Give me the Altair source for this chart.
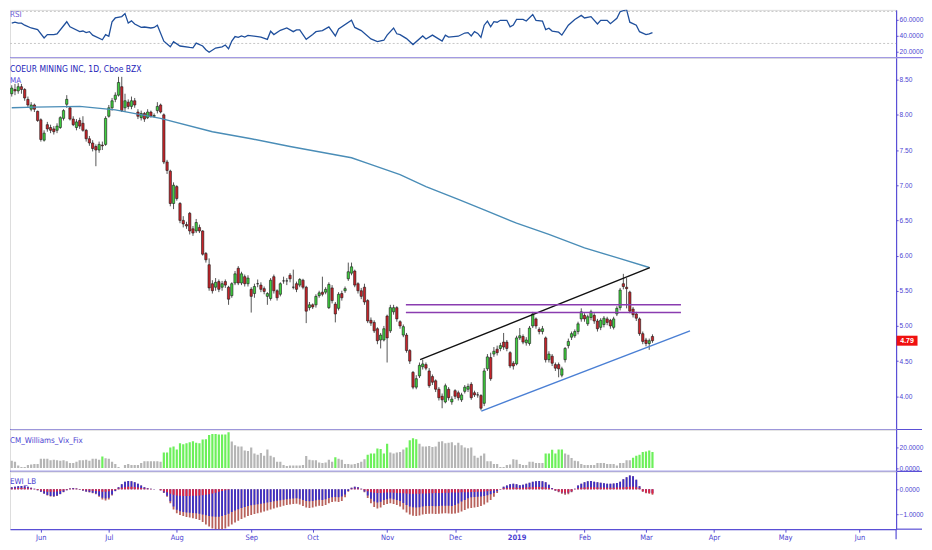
import altair as alt
import pandas as pd

FONT = "DejaVu Sans Condensed, Liberation Sans, sans-serif"
TICK_FONT = "Liberation Sans, sans-serif"
AXIS_BLUE = "#5a4fd6"
TEXT_BLUE = "#4b3fd2"
PX_PER_BAR = 3.2466
X_START = 2.46
PLOT_W = 889
X_DOMAIN = [X_START, X_START + PLOT_W / PX_PER_BAR]
RIGHT_EDGE = 915
FIRST_VISIBLE = 3
NO_PAD = {"left": 0, "top": 0, "right": 0, "bottom": 0}

# daily candles, index 0 = mid May 2018 (trading days only)
opens = [
    7.96, 8.00, 8.12, 8.30, 8.36, 8.34, 8.40, 8.36, 8.22, 8.08,
    8.14, 8.05, 7.93, 7.64, 7.86, 7.82, 7.80, 7.78, 7.82, 7.95,
    8.15, 8.10, 7.94, 7.82, 7.92, 7.88, 7.78, 7.66, 7.60, 7.55,
    7.50, 7.57, 7.58, 7.98, 8.10, 8.22, 8.28, 8.40, 8.10, 8.18,
    8.12, 8.20, 8.04, 7.96, 8.02, 7.96, 8.04, 7.98, 8.06, 8.14,
    8.00, 7.33, 7.20, 6.74, 6.98, 6.74, 6.50, 6.44, 6.60, 6.38,
    6.35, 6.40, 6.35, 6.03, 5.87, 5.60, 5.55, 5.63, 5.55, 5.63,
    5.55, 5.43, 5.61, 5.82, 5.61, 5.70, 5.60, 5.52, 5.46, 5.60,
    5.58, 5.53, 5.42, 5.39, 5.70, 5.50, 5.45, 5.64, 5.64, 5.72,
    5.55, 5.60, 5.58, 5.65, 5.55, 5.26, 5.30, 5.30, 5.43, 5.48,
    5.48, 5.26, 5.54, 5.31, 5.25, 5.46, 5.50, 5.67, 5.75, 5.78,
    5.60, 5.50, 5.55, 5.36, 5.08, 5.05, 4.96, 4.80, 4.80, 5.14,
    4.93, 5.20, 5.26, 5.06, 4.87, 4.87, 4.65, 4.34, 4.13, 4.29,
    4.42, 4.45, 4.36, 4.28, 4.22, 4.10, 4.00, 3.92, 4.10, 3.92,
    4.08, 4.05, 3.95, 4.07, 4.10, 4.17, 4.05, 4.02, 4.01, 3.90,
    4.39, 4.55, 4.60, 4.67, 4.68, 4.77, 4.77, 4.62, 4.47, 4.46,
    4.83, 4.85, 4.76, 4.75, 5.00, 5.10, 4.95, 4.92, 4.83, 4.52,
    4.57, 4.45, 4.45, 4.30, 4.52, 4.72, 4.84, 4.86, 4.92, 5.10,
    5.15, 5.03, 5.12, 5.15, 5.07, 4.98, 5.02, 5.10, 5.08, 4.98,
    5.17, 5.26, 5.60, 5.55, 5.48, 5.24, 5.17, 5.10, 4.89, 4.80,
    4.75, 4.85,
]
closes = [
    8.04, 8.14, 8.30, 8.38, 8.34, 8.40, 8.36, 8.24, 8.14, 8.14,
    8.08, 7.92, 7.65, 7.74, 7.80, 7.78, 7.76, 7.84, 7.96, 8.06,
    8.22, 7.94, 7.86, 7.90, 7.84, 7.78, 7.66, 7.60, 7.52, 7.50,
    7.58, 7.56, 7.95, 8.10, 8.20, 8.28, 8.46, 8.06, 8.20, 8.12,
    8.20, 8.14, 7.98, 8.02, 7.94, 8.04, 7.98, 7.99, 8.12, 8.04,
    7.33, 7.21, 6.74, 7.00, 6.81, 6.50, 6.45, 6.42, 6.35, 6.32,
    6.47, 6.35, 6.02, 5.94, 5.54, 5.50, 5.62, 5.52, 5.60, 5.58,
    5.38, 5.60, 5.74, 5.61, 5.74, 5.60, 5.68, 5.42, 5.56, 5.60,
    5.52, 5.49, 5.46, 5.65, 5.50, 5.40, 5.60, 5.64, 5.64, 5.67,
    5.55, 5.52, 5.66, 5.55, 5.21, 5.30, 5.27, 5.42, 5.47, 5.45,
    5.52, 5.59, 5.36, 5.17, 5.45, 5.40, 5.53, 5.77, 5.84, 5.58,
    5.50, 5.42, 5.34, 5.07, 5.04, 4.93, 4.79, 4.87, 4.96, 4.83,
    5.26, 5.26, 5.10, 5.00, 4.99, 4.65, 4.50, 4.13, 4.25, 4.44,
    4.46, 4.40, 4.15, 4.20, 4.10, 3.98, 3.95, 4.15, 3.98, 3.96,
    4.00, 3.98, 4.02, 4.13, 4.14, 3.98, 4.02, 4.02, 3.83, 4.36,
    4.56, 4.25, 4.64, 4.62, 4.72, 4.70, 4.68, 4.43, 4.43, 4.83,
    4.86, 4.77, 4.80, 4.97, 5.17, 5.00, 4.92, 4.96, 4.52, 4.60,
    4.47, 4.40, 4.39, 4.39, 4.68, 4.78, 4.89, 4.92, 5.03, 5.20,
    5.10, 5.13, 5.20, 5.07, 4.96, 5.08, 5.11, 5.05, 5.00, 5.10,
    5.25, 5.51, 5.56, 5.53, 5.21, 5.16, 5.11, 4.89, 4.78, 4.75,
    4.79, 4.79,
]
highs = [
    8.07, 8.18, 8.33, 8.42, 8.44, 8.45, 8.44, 8.38, 8.26, 8.18,
    8.16, 8.06, 7.95, 7.78, 7.90, 7.86, 7.84, 7.88, 7.98, 8.08,
    8.28, 8.12, 7.98, 7.94, 7.96, 7.98, 7.80, 7.70, 7.64, 7.58,
    7.62, 7.62, 7.98, 8.14, 8.24, 8.32, 8.54, 8.54, 8.30, 8.22,
    8.26, 8.24, 8.08, 8.06, 8.04, 8.08, 8.06, 8.02, 8.18, 8.16,
    8.02, 7.36, 7.22, 7.04, 7.00, 6.76, 6.56, 6.48, 6.62, 6.42,
    6.52, 6.44, 6.36, 6.05, 5.96, 5.65, 5.68, 5.66, 5.64, 5.66,
    5.57, 5.62, 5.78, 5.85, 5.77, 5.73, 5.72, 5.55, 5.60, 5.66,
    5.62, 5.56, 5.48, 5.68, 5.73, 5.52, 5.62, 5.70, 5.68, 5.75,
    5.80, 5.63, 5.68, 5.67, 5.57, 5.34, 5.32, 5.45, 5.50, 5.70,
    5.55, 5.62, 5.58, 5.34, 5.48, 5.50, 5.56, 5.90, 5.90, 5.80,
    5.62, 5.54, 5.60, 5.38, 5.12, 5.08, 4.98, 4.90, 5.00, 5.16,
    5.30, 5.30, 5.28, 5.08, 5.02, 4.90, 4.67, 4.36, 4.30, 4.48,
    4.52, 4.48, 4.40, 4.31, 4.24, 4.13, 4.04, 4.18, 4.13, 4.00,
    4.10, 4.08, 4.05, 4.16, 4.18, 4.20, 4.08, 4.06, 4.03, 4.40,
    4.60, 4.62, 4.70, 4.72, 4.76, 4.90, 4.80, 4.64, 4.50, 4.86,
    4.97, 4.88, 4.84, 5.00, 5.20, 5.12, 4.98, 5.00, 4.85, 4.64,
    4.60, 4.48, 4.48, 4.42, 4.70, 4.82, 4.92, 4.95, 5.06, 5.25,
    5.18, 5.16, 5.23, 5.18, 5.10, 5.11, 5.14, 5.13, 5.10, 5.13,
    5.28, 5.54, 5.74, 5.68, 5.50, 5.27, 5.20, 5.12, 4.92, 4.83,
    4.82, 4.88,
]
lows = [
    7.93, 7.98, 8.10, 8.26, 8.28, 8.30, 8.30, 8.20, 8.10, 8.05,
    8.04, 7.90, 7.62, 7.62, 7.76, 7.74, 7.72, 7.74, 7.80, 7.92,
    8.10, 7.92, 7.84, 7.78, 7.80, 7.76, 7.62, 7.56, 7.48, 7.27,
    7.46, 7.50, 7.56, 7.96, 8.06, 8.18, 8.26, 8.04, 8.04, 8.08,
    8.08, 8.10, 7.94, 7.92, 7.90, 7.94, 7.96, 7.96, 8.02, 8.02,
    7.30, 7.16, 6.70, 6.66, 6.78, 6.46, 6.40, 6.38, 6.30, 6.28,
    6.32, 6.32, 6.00, 5.90, 5.50, 5.46, 5.50, 5.48, 5.50, 5.54,
    5.30, 5.40, 5.58, 5.58, 5.58, 5.56, 5.56, 5.19, 5.40, 5.55,
    5.48, 5.45, 5.30, 5.36, 5.46, 5.36, 5.42, 5.60, 5.58, 5.62,
    5.52, 5.48, 5.55, 5.52, 5.04, 5.22, 5.24, 5.26, 5.40, 5.42,
    5.45, 5.24, 5.32, 5.05, 5.22, 5.36, 5.47, 5.64, 5.72, 5.55,
    5.46, 5.38, 5.30, 5.04, 5.00, 4.90, 4.74, 4.68, 4.78, 4.48,
    4.90, 5.16, 5.06, 4.96, 4.84, 4.62, 4.46, 4.10, 4.10, 4.26,
    4.38, 4.37, 4.12, 4.16, 4.06, 3.94, 3.83, 3.90, 3.94, 3.88,
    3.96, 3.94, 3.92, 4.04, 4.06, 3.95, 3.99, 3.98, 3.80, 3.86,
    4.36, 4.22, 4.56, 4.58, 4.64, 4.66, 4.64, 4.40, 4.38, 4.44,
    4.80, 4.74, 4.72, 4.72, 4.97, 4.96, 4.88, 4.88, 4.48, 4.48,
    4.43, 4.36, 4.27, 4.27, 4.48, 4.68, 4.80, 4.83, 4.88, 5.06,
    5.06, 5.00, 5.08, 5.03, 4.92, 4.94, 4.98, 5.01, 4.96, 4.95,
    5.14, 5.22, 5.52, 5.25, 5.18, 5.12, 5.07, 4.86, 4.74, 4.71,
    4.66, 4.76,
]

# moving average, read at a few bars
ma_i = [3, 10, 24, 35, 49, 65, 77, 89, 108, 113, 123, 131, 141, 149, 159, 169, 180, 190, 200]
ma_p = [8.10, 8.11, 8.12, 8.07, 7.95, 7.76, 7.66, 7.55, 7.39, 7.31, 7.15, 6.98, 6.80, 6.65, 6.46,
        6.30, 6.11, 5.97, 5.83]

# drawn lines: channel top, support, two horizontal levels
line_i0 = [129.2, 148.1, 124.8, 124.8]
line_p0 = [4.52, 3.79, 5.30, 5.19]
line_i1 = [200.2, 212.6, 209.8, 209.8]
line_p1 = [5.83, 4.93, 5.30, 5.19]
line_colors = ["#111111", "#4a7fd4", "#8a3cb0", "#8a3cb0"]

last_price = 4.79

rsi_i = [
    3, 4, 5, 6, 7, 9, 11, 13, 14,
    16, 17, 20, 21, 24, 25, 26, 27, 28, 31,
    32, 33, 34, 35, 37, 38, 39, 40, 41, 43,
    44, 46, 47, 48, 50, 52, 53, 55, 58, 59,
    60, 62, 63, 64, 66, 68, 69, 70, 71, 72,
    73, 74, 75, 76, 79, 80, 82, 83, 84, 86,
    88, 90, 91, 92, 94, 96, 97, 99, 101, 103,
    104, 108, 109, 111, 114, 116, 118, 119, 121, 122,
    123, 125, 127, 130, 131, 133, 136, 137, 138, 141,
    143, 144, 145, 146, 147, 148, 149, 150, 151, 152,
    153, 154, 156, 157, 158, 159, 161, 162, 164, 165,
    167, 168, 169, 170, 172, 173, 175, 177, 179, 180,
    182, 184, 185, 187, 188, 190, 191, 193, 194, 196,
    197, 199, 200, 201,
]
rsi_v = [
    55.3, 56.5, 55.4, 55.4, 52.8, 49.3, 47.2, 36.8, 41.1,
    41.1, 42.0, 57.1, 50.7, 44.7, 45.5, 43.6, 44.7, 40.4, 34.6,
    41.1, 39.0, 57.1, 61.8, 63.5, 67.2, 55.4, 58.2, 54.3, 50.0,
    50.5, 49.3, 50.0, 52.8, 32.9, 25.8, 32.2, 26.8, 25.0, 24.5,
    30.4, 26.8, 22.2, 19.0, 24.3, 25.8, 28.0, 23.3, 32.9, 38.6,
    37.5, 39.3, 38.0, 40.0, 38.5, 38.0, 35.1, 45.3, 41.1, 46.4,
    49.3, 44.7, 47.0, 47.0, 35.1, 41.1, 44.7, 46.0, 50.7, 39.3,
    48.2, 58.9, 50.0, 46.0, 35.7, 32.2, 34.0, 40.4, 49.3, 42.1,
    41.0, 36.0, 28.6, 39.3, 35.5, 40.4, 32.9, 40.4, 38.0, 39.0,
    43.0, 43.5, 39.3, 44.7, 42.5, 37.5, 52.8, 57.9, 50.7, 57.1,
    56.5, 58.9, 58.9, 50.7, 53.0, 60.0, 60.0, 58.0, 66.1, 58.9,
    57.9, 47.2, 49.0, 45.5, 44.0, 40.4, 52.8, 60.0, 65.0, 61.8,
    63.5, 54.3, 58.9, 58.9, 54.6, 61.4, 69.6, 72.1, 56.5, 52.8,
    44.7, 41.1, 42.0, 43.6,
]
rsi_levels = [70, 30]

vix = [
    10, 10, 8, 7, 6, 2.5, 1, 1, 3, 3.5,
    4, 4, 9, 9, 9, 7.5, 8, 7.5, 7, 7.5,
    6.5, 5, 5, 6, 7.5, 7.5, 8, 7, 9, 9,
    8, 11.3, 9.5, 9, 6, 4, 1, 0, 3, 4,
    3, 3, 3, 5, 6.5, 6.5, 6.5, 6.5, 6.5, 6,
    15, 15, 20, 21, 18, 24, 23, 24, 25, 26,
    24.5, 24, 27.7, 28, 32, 33, 33, 32.5, 32.5, 32.5,
    34.8, 25.8, 22, 21, 21, 17, 16.5, 20, 14, 13,
    14.5, 12, 18, 12, 10.5, 6, 6, 3, 2, 2.5,
    2.5, 2.5, 2.5, 3, 11.6, 8, 7.5, 7.5, 5.5, 5,
    5.5, 8, 6, 10.6, 9, 8, 4, 4, 3.5, 4,
    5, 6, 8.5, 13, 14, 14, 19, 18.5, 14, 23.5,
    15, 14, 15, 15.5, 18, 20, 27, 29, 28, 23.5,
    21, 21, 21.5, 20.5, 21, 25.5, 26, 24, 24.5, 25,
    22, 24.5, 22, 20, 19.3, 20, 12, 10, 12, 14,
    6.5, 6.5, 4, 4, 1, 1, 3, 3.5, 8.5, 8,
    4, 3, 3, 6, 6, 5, 5, 5, 14, 14,
    17.7, 14, 18, 18, 14, 13, 9.7, 7, 6.5, 4,
    3, 3, 3, 3, 5, 5, 5, 4, 4, 4,
    2.5, 5, 5, 7.5, 7.5, 10, 12, 13, 15.5, 16,
    17, 15.5,
]
vix_green_spans = [(31, 31), (50, 70), (103, 103), (113, 119), (125, 128), (168, 173), (195, 201)]

# EWI_LB: full column (brown), blue part, red part near zero
ewi_full = [
    .04, .05, .06, .08, .10, .12, .13, .12, .10, .06,
    .02, -.04, -.10, -.18, -.25, -.29, -.30, -.27, -.20, -.12,
    -.04, .03, .05, .03, -.02, -.06, -.10, -.13, -.16, -.20,
    -.30, -.40, -.44, -.40, -.25, -.08, .08, .20, .30, .33,
    .32, .28, .22, .15, .08, .04, .02, .01, .00, -.05,
    -.15, -.30, -.55, -.80, -.95, -1.02, -1.06, -1.10, -1.12, -1.15,
    -1.18, -1.22, -1.30, -1.40, -1.48, -1.55, -1.60, -1.62, -1.60, -1.55,
    -1.48, -1.40, -1.32, -1.25, -1.18, -1.12, -1.06, -1.02, -.98, -.95,
    -.92, -.88, -.84, -.80, -.76, -.72, -.69, -.65, -.62, -.60,
    -.58, -.57, -.60, -.66, -.72, -.74, -.72, -.68, -.65, -.66,
    -.62, -.55, -.50, -.48, -.50, -.46, -.32, -.10, .06, .10,
    .08, .02, -.12, -.35, -.55, -.70, -.76, -.72, -.62, -.58,
    -.55, -.58, -.62, -.68, -.80, -.92, -1.00, -1.05, -1.06, -1.04,
    -1.00, -.98, -.97, -.97, -.98, -.97, -.96, -.95, -.96, -.97,
    -.96, -.93, -.88, -.82, -.76, -.74, -.72, -.70, -.66, -.60,
    -.52, -.42, -.30, -.15, -.02, .10, .15, .20, .22, .20,
    .16, .18, .22, .26, .30, .32, .33, .32, .28, .18,
    .05, -.06, -.12, -.18, -.22, -.20, -.12, .02, .15, .22,
    .28, .32, .33, .30, .28, .26, .24, .22, .22, .23,
    .25, .30, .40, .48, .55, .52, .38, .12, -.10, -.16,
    -.18, -.22,
]
ewi_blue = [
    .04, .05, .06, .08, .10, .12, .13, .12, .10, .06,
    .02, -.04, -.10, -.17, -.23, -.27, -.28, -.25, -.19, -.11,
    -.04, .03, .05, .03, -.02, -.05, -.09, -.11, -.14, -.17,
    -.26, -.34, -.37, -.34, -.21, -.07, .08, .20, .30, .33,
    .32, .28, .22, .15, .08, .04, .02, .01, .00, -.04,
    -.13, -.26, -.47, -.68, -.81, -.87, -.90, -.92, -.93, -.94,
    -.95, -.97, -1.00, -1.03, -1.06, -1.08, -1.09, -1.09, -1.06, -1.02,
    -.97, -.90, -.84, -.79, -.74, -.70, -.66, -.63, -.61, -.59,
    -.57, -.55, -.52, -.50, -.47, -.45, -.43, -.41, -.39, -.38,
    -.37, -.36, -.38, -.42, -.46, -.47, -.46, -.43, -.41, -.42,
    -.39, -.35, -.32, -.31, -.32, -.29, -.21, -.07, .06, .10,
    .08, .02, -.09, -.25, -.38, -.48, -.52, -.49, -.42, -.39,
    -.37, -.39, -.42, -.46, -.54, -.62, -.68, -.71, -.72, -.71,
    -.68, -.66, -.66, -.66, -.67, -.66, -.65, -.65, -.65, -.66,
    -.62, -.56, -.48, -.42, -.36, -.32, -.31, -.30, -.29, -.27,
    -.24, -.20, -.15, -.08, -.01, .10, .15, .20, .22, .20,
    .16, .18, .22, .26, .30, .32, .33, .32, .28, .18,
    .05, -.05, -.09, -.13, -.16, -.14, -.09, .02, .15, .22,
    .28, .32, .33, .30, .28, .26, .24, .22, .22, .23,
    .25, .30, .40, .48, .55, .52, .38, .12, -.08, -.12,
    -.13, -.15,
]
ewi_red = [
    .02, .02, .03, .03, .04, .05, .05, .05, .04, .03,
    .01, -.03, -.05, -.08, -.10, -.10, -.10, -.09, -.07, -.05,
    -.02, .02, .02, .02, -.01, -.03, -.04, -.05, -.06, -.07,
    -.08, -.10, -.10, -.08, -.05, -.03, .03, .06, .08, .10,
    .10, .09, .07, .05, .03, .02, .01, 0, 0, -.03,
    -.08, -.12, -.18, -.22, -.25, -.26, -.27, -.27, -.27, -.26,
    -.26, -.25, -.24, -.22, -.20, -.17, -.14, -.10, -.07, -.04,
    -.02, 0, 0, 0, 0, 0, 0, 0, 0, 0,
    0, 0, 0, 0, 0, 0, 0, 0, 0, 0,
    0, 0, 0, 0, 0, 0, 0, 0, 0, 0,
    0, 0, 0, 0, 0, 0, 0, 0, .02, .03,
    .03, .01, -.04, -.08, -.12, -.14, -.15, -.15, -.14, -.13,
    -.13, -.14, -.15, -.15, -.16, -.17, -.18, -.18, -.18, -.18,
    -.17, -.17, -.16, -.16, -.15, -.15, -.15, -.14, -.14, -.13,
    -.13, -.13, -.12, -.12, -.12, -.11, -.11, -.10, -.10, -.09,
    -.08, -.07, -.05, -.03, -.01, .04, .05, .06, .07, .06,
    .05, .06, .07, .08, .08, .09, .09, .08, .07, .05,
    .02, -.04, -.08, -.12, -.14, -.13, -.08, .01, .04, .06,
    .07, .08, .08, .08, .07, .07, .07, .06, .06, .06,
    .07, .07, .08, .09, .10, .10, .08, .04, -.08, -.13,
    -.15, -.18,
]

month_ticks = [12, 33, 54, 77, 96, 119, 140, 159, 180, 199, 220, 242, 265]
month_labels = ["Jun", "Jul", "Aug", "Sep", "Oct", "Nov", "Dec", "2019", "Feb", "Mar", "Apr", "May", "Jun"]


bars = pd.DataFrame({"i": range(len(closes)), "open": opens, "close": closes, "high": highs, "low": lows})
bars = bars[bars["i"] >= FIRST_VISIBLE]
up_bars = bars[bars["close"] >= bars["open"]]
down_bars = bars[bars["close"] < bars["open"]]

green_idx = {k for a, b in vix_green_spans for k in range(a, b + 1)}
vix_df = pd.DataFrame({"i": range(len(vix)), "vix": vix})
vix_df = vix_df[vix_df["i"] >= FIRST_VISIBLE]
vix_green = vix_df[vix_df["i"].isin(green_idx)]
vix_grey = vix_df[~vix_df["i"].isin(green_idx)]

ewi_df = pd.DataFrame({"i": range(len(ewi_full)), "full": ewi_full, "blue": ewi_blue, "red": ewi_red})
ewi_df = ewi_df[ewi_df["i"] >= FIRST_VISIBLE]

# padding=0: bars would otherwise pad the continuous x range by 5px each side
x_scale = alt.Scale(domain=X_DOMAIN, nice=False, zero=False, padding=0)
x_hidden = alt.X("i:Q", scale=x_scale, axis=None)


def right_axis(values, fmt):
    return alt.Axis(
        orient="right", values=values, format=fmt, title=None, grid=False,
        tickSize=2, tickColor=AXIS_BLUE, domainColor=AXIS_BLUE, domainWidth=1.2,
        labelColor=TEXT_BLUE, labelFont=TICK_FONT, labelFontSize=6.6, labelPadding=1,
        labelFlush=False, labelOverlap=False,
    )


def panel_label(text, y, color=TEXT_BLUE, size=8):
    return alt.Chart(pd.DataFrame({"t": [text]})).mark_text(
        align="left", baseline="middle", font=FONT, fontSize=size, color=color
    ).encode(x=alt.value(0), y=alt.value(y), text="t:N")


def separator(y, color=AXIS_BLUE):
    return alt.Chart(pd.DataFrame({"k": [0]})).mark_rule(color=color, strokeWidth=1.2).encode(
        x=alt.value(0), x2=alt.value(RIGHT_EDGE), y=alt.value(y)
    )


# RSI
rsi_scale = alt.Scale(domain=[12.2, 71.9], nice=False, zero=False)
rsi_axis = right_axis([20, 40, 60], ".4f")
rsi_levels_chart = alt.Chart(pd.DataFrame({"lvl": rsi_levels})).mark_rule(
    color="#c6c6c6", strokeDash=[2, 2], strokeWidth=1
).encode(y=alt.Y("lvl:Q", scale=rsi_scale, axis=rsi_axis), x=alt.value(0), x2=alt.value(PLOT_W))
rsi_line = alt.Chart(pd.DataFrame({"i": rsi_i, "rsi": rsi_v})).mark_line(
    color="#1f4f9c", strokeWidth=1.3, clip=True
).encode(x=x_hidden, y=alt.Y("rsi:Q", scale=rsi_scale, axis=rsi_axis))
rsi_panel = alt.layer(
    rsi_levels_chart, rsi_line, panel_label("RSI", 5, "#6a5ad6"), separator(48, "#8c80e6")
).properties(width=PLOT_W, height=48)

# price
price_scale = alt.Scale(domain=[3.528, 8.812], nice=False, zero=False)
price_axis = right_axis([4.0, 4.5, 5.0, 5.5, 6.0, 6.5, 7.0, 7.5, 8.0, 8.5], ".2f")
wicks = alt.Chart(bars).mark_rule(color="#555555", strokeWidth=1, clip=True).encode(
    x=x_hidden, y=alt.Y("low:Q", scale=price_scale, axis=price_axis), y2="high:Q"
)
candle_layers = [
    alt.Chart(df).mark_bar(size=2.3, color=col, stroke="#1a1a1a", strokeWidth=0.6, clip=True).encode(
        x=x_hidden, y=alt.Y("open:Q", scale=price_scale, axis=price_axis), y2="close:Q"
    )
    for df, col in [(up_bars, "#3fd03f"), (down_bars, "#c8242a")]
]
ma_line = alt.Chart(pd.DataFrame({"i": ma_i, "ma": ma_p})).mark_line(
    color="#4a8db7", strokeWidth=1.4, clip=True
).encode(x=x_hidden, y=alt.Y("ma:Q", scale=price_scale, axis=price_axis))
drawn_layers = [
    alt.Chart(pd.DataFrame({"i0": [a], "p0": [b], "i1": [c], "p1": [d]})).mark_rule(
        color=col, strokeWidth=1.4, clip=True
    ).encode(
        x=alt.X("i0:Q", scale=x_scale, axis=None), x2="i1:Q",
        y=alt.Y("p0:Q", scale=price_scale, axis=price_axis), y2="p1:Q",
    )
    for a, b, c, d, col in zip(line_i0, line_p0, line_i1, line_p1, line_colors)
]
price_box = alt.Chart(pd.DataFrame({"p": [last_price]})).mark_tick(
    orient="horizontal", size=21, thickness=10, color="#f01010", opacity=1
).encode(x=alt.value(PLOT_W + 11), y=alt.Y("p:Q", scale=price_scale, axis=price_axis))
price_text = alt.Chart(pd.DataFrame({"p": [last_price]})).mark_text(
    font=TICK_FONT, fontSize=7, fontWeight="bold", color="white", align="center", baseline="middle"
).encode(x=alt.value(PLOT_W + 11), y=alt.Y("p:Q", scale=price_scale, axis=price_axis),
         text=alt.Text("p:Q", format=".2f"))
main_panel = alt.layer(
    wicks, *candle_layers, ma_line, *drawn_layers, price_box, price_text,
    panel_label("COEUR MINING INC, 1D, Cboe BZX", 11, "#2222b8", 8.5),
    panel_label("MA", 23, "#5548dd"),
    separator(373),
).properties(width=PLOT_W, height=373)

# CM_Williams_Vix_Fix
vix_scale = alt.Scale(domain=[-3.2, 37.4], nice=False, zero=False)
vix_axis = right_axis([0, 20], ".4f")
vix_layers = [
    alt.Chart(df).mark_bar(size=2.2, color=col, clip=True).encode(
        x=x_hidden, y=alt.Y("vix:Q", scale=vix_scale, axis=vix_axis), y2=alt.datum(0)
    )
    for df, col in [(vix_grey, "#b5b5b5"), (vix_green, "#6cf05a")]
]
vix_panel = alt.layer(*vix_layers, panel_label("CM_Williams_Vix_Fix", 12), separator(42)).properties(
    width=PLOT_W, height=42
)

# EWI_LB with the month axis
label_expr = " : ".join(f"datum.value == {t} ? '{l}'" for t, l in zip(month_ticks, month_labels)) + " : ''"
x_axis = alt.Axis(
    values=month_ticks, labelExpr=label_expr, title=None, grid=False,
    tickSize=3, tickColor=AXIS_BLUE, domainColor=AXIS_BLUE, domainWidth=1.2,
    labelColor=TEXT_BLUE, labelFont=FONT, labelFontSize=7.5, labelPadding=1,
    labelFlush=False, labelOverlap=False,
    labelFontWeight={"condition": {"test": "datum.value == 159", "value": "bold"}, "value": "normal"},
)
x_bottom = alt.X("i:Q", scale=x_scale, axis=x_axis)
EWI_H = 58
ewi_scale = alt.Scale(domain=[-1.581, 0.711], nice=False, zero=False)
ewi_axis = right_axis([-1, 0], ".4f")
ewi_layers = [
    alt.Chart(ewi_df).mark_bar(size=1.8, color=col, clip=True).encode(
        x=x_bottom, y=alt.Y(f"{field}:Q", scale=ewi_scale, axis=ewi_axis), y2=alt.datum(0)
    )
    for field, col in [("full", "#b8625c"), ("blue", "#3a30c8"), ("red", "#e4283f")]
]
bottom_ext = alt.Chart(pd.DataFrame({"k": [0]})).mark_rule(color=AXIS_BLUE, strokeWidth=1.2).encode(
    x=alt.value(PLOT_W), x2=alt.value(RIGHT_EDGE), y=alt.value(EWI_H)
)
axis_tail = alt.Chart(pd.DataFrame({"k": [0]})).mark_rule(color=AXIS_BLUE, strokeWidth=1.2).encode(
    x=alt.value(PLOT_W), y=alt.value(EWI_H), y2=alt.value(EWI_H + 10)
)
ewi_panel = alt.layer(*ewi_layers, panel_label("EWI_LB", 11), bottom_ext, axis_tail).properties(
    width=PLOT_W, height=EWI_H
)

chart = (
    alt.vconcat(rsi_panel, main_panel, vix_panel, ewi_panel, spacing=0, bounds="flush")
    .properties(padding=NO_PAD)
    .configure_view(stroke=None)
    .configure(background="white", padding=NO_PAD)
)

chart.save("out.html", embed_options={"renderer": "svg", "actions": False, "padding": NO_PAD})
